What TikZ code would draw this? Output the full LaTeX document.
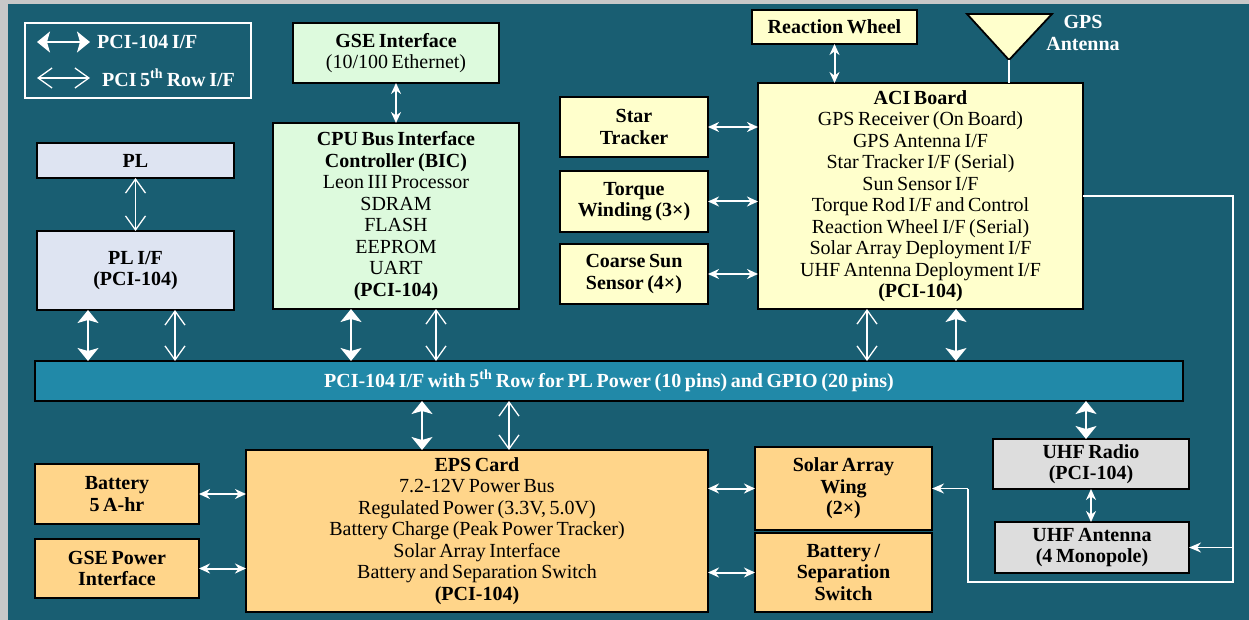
\documentclass[tikz,border=0pt]{standalone}
\usepackage{fontspec}
\setmainfont{Liberation Serif}
\usetikzlibrary{arrows.meta}
\definecolor{bgteal}{RGB}{25,94,114}
\definecolor{busblue}{RGB}{33,137,168}
\definecolor{edgegray}{RGB}{200,200,200}
\definecolor{boxgreen}{RGB}{221,250,221}
\definecolor{boxyellow}{RGB}{255,255,204}
\definecolor{boxlav}{RGB}{222,228,242}
\definecolor{boxgray}{RGB}{221,221,221}
\definecolor{boxorange}{RGB}{255,213,138}
\newcommand{\mytight}{\fontsize{20}{21.5}\selectfont\spaceskip=0.18em plus 0.05em minus 0.05em\relax}
\newcommand{\myblock}[7]{%
  \pgfmathsetmacro{\myblkw}{#5-#3}%
  \pgfmathsetmacro{\myblkh}{#6-#4}%
  \node[blkbox,#2,minimum width=\myblkw pt,minimum height=\myblkh pt,anchor=north west] (#1) at (#3,#4) {#7};}
\tikzset{
  blkbox/.style={draw=black, line width=1.8pt, inner sep=1pt, outer sep=0pt, align=center, text=black,
    font=\mytight},
  sarr/.style={draw=white, line width=1.4pt,
    arrows={Stealth[length=13pt,width=21pt,inset=3pt]-Stealth[length=13pt,width=21pt,inset=3pt]}},
  oarr/.style={draw=white, line width=1.3pt,
    arrows={Straight Barb[length=14pt,width=20pt]-Straight Barb[length=14pt,width=20pt]}},
  smarr/.style={draw=white, line width=2pt,
    arrows={Stealth[length=11pt,width=10pt]-Stealth[length=11pt,width=10pt]}},
  feed/.style={draw=white, line width=1.4pt},
  feedarr/.style={draw=white, line width=1.4pt, arrows={-Stealth[length=12pt,width=10pt]}},
  wtext/.style={text=white, font=\mytight\bfseries, inner sep=0pt, align=center}
}
\begin{document}
\begin{tikzpicture}[x=1pt,y=-1pt]
\useasboundingbox (0,0) rectangle (1249,620);
\fill[edgegray] (0,0) rectangle (1249,620);
\fill[bgteal] (8,4) rectangle (1249,620);

% legend
\draw[white, line width=1.5pt] (25,23) rectangle (251,98);
\coordinate (l1a) at (37,42); \coordinate (l1b) at (90,42);
\coordinate (l2a) at (37,78); \coordinate (l2b) at (90,78);
\draw[sarr] (l1a) -- (l1b);
\draw[oarr] (l2a) -- (l2b);
\node[wtext, anchor=west] (leg1) at (97,42) {PCI-104 I/F};
\node[wtext, anchor=west] (leg2) at (102,78) {PCI 5\textsuperscript{th} Row I/F};

% blocks
\myblock{gse}{fill=boxgreen}{293}{23}{499}{83}{\textbf{GSE Interface}\\(10/100 Ethernet)}
\myblock{cpu}{fill=boxgreen}{273}{123}{519}{309}{\textbf{CPU Bus Interface}\\\textbf{Controller (BIC)}\\Leon III Processor\\SDRAM\\FLASH\\EEPROM\\UART\\\textbf{(PCI-104)}}
\myblock{pl}{fill=boxlav}{37}{143}{234}{178}{\textbf{PL}}
\myblock{plif}{fill=boxlav}{37}{231}{234}{310}{\textbf{PL I/F}\\\textbf{(PCI-104)}}
\myblock{bus}{fill=busblue}{35}{361}{1183}{401}{}
\node[wtext] (bustext) at (bus.center) {PCI-104 I/F with 5\textsuperscript{th} Row for PL Power (10 pins) and GPIO (20 pins)};
\myblock{aci}{fill=boxyellow}{758}{83}{1083}{309}{\textbf{ACI Board}\\GPS Receiver (On Board)\\GPS Antenna I/F\\Star Tracker I/F (Serial)\\Sun Sensor I/F\\Torque Rod I/F and Control\\Reaction Wheel I/F (Serial)\\Solar Array Deployment I/F\\UHF Antenna Deployment I/F\\\textbf{(PCI-104)}}
\myblock{rw}{fill=boxyellow}{752}{10}{917}{44}{\textbf{Reaction Wheel}}
\myblock{star}{fill=boxyellow}{560}{97}{708}{157}{\textbf{Star}\\\textbf{Tracker}}
\myblock{torque}{fill=boxyellow}{560}{171}{708}{232}{\textbf{Torque}\\\textbf{Winding (3×)}}
\myblock{coarse}{fill=boxyellow}{560}{244}{708}{304}{\textbf{Coarse Sun}\\\textbf{Sensor (4×)}}
\myblock{uhfr}{fill=boxgray}{993}{439}{1189}{489}{\textbf{UHF Radio}\\\textbf{(PCI-104)}}
\myblock{uhfa}{fill=boxgray}{995}{522}{1189}{573}{\textbf{UHF Antenna}\\\textbf{(4 Monopole)}}
\myblock{eps}{fill=boxorange}{246}{450}{708}{612}{\textbf{EPS Card}\\7.2-12V Power Bus\\Regulated Power (3.3V, 5.0V)\\Battery Charge (Peak Power Tracker)\\Solar Array Interface\\Battery and Separation Switch\\\textbf{(PCI-104)}}
\myblock{batt}{fill=boxorange}{35}{464}{199}{524}{\textbf{Battery}\\\textbf{5 A-hr}}
\myblock{gsep}{fill=boxorange}{35}{539}{199}{598}{\textbf{GSE Power}\\\textbf{Interface}}
\myblock{solar}{fill=boxorange}{755}{447}{932}{530}{\textbf{Solar Array}\\\textbf{Wing}\\\textbf{(2×)}}
\myblock{bsep}{fill=boxorange}{755}{533}{932}{612}{\textbf{Battery /}\\\textbf{Separation}\\\textbf{Switch}}

% GPS antenna
\coordinate (gpsapex) at (1009,60);
\filldraw[fill=boxyellow, draw=black, line width=1.8pt, line join=miter] (967,14) -- (1052,14) -- (gpsapex) -- cycle;
\draw[feed] (gpsapex) -- (gpsapex |- aci.north);
\node[wtext] (gpstext) at (1083,33) {GPS\\Antenna};

% connectors
\draw[oarr] (pl.south) -- (plif.north);
\draw[sarr] ([xshift=51pt]plif.south west) -- ([xshift=53pt]bus.north west);
\draw[oarr] ([xshift=138pt]plif.south west) -- ([xshift=140pt]bus.north west);
\draw[smarr] (gse.south) -- (cpu.north);
\draw[sarr] ([xshift=78pt]cpu.south west) -- ([xshift=316pt]bus.north west);
\draw[oarr] ([xshift=163pt]cpu.south west) -- ([xshift=401pt]bus.north west);
\draw[oarr] ([xshift=109pt]aci.south west) -- ([xshift=832pt]bus.north west);
\draw[sarr] ([xshift=198pt]aci.south west) -- ([xshift=921pt]bus.north west);
\draw[smarr] (rw.south) -- (rw.south |- aci.north);
\draw[smarr] (star.east) -- (star.east -| aci.west);
\draw[smarr] (torque.east) -- (torque.east -| aci.west);
\draw[smarr] (coarse.east) -- (coarse.east -| aci.west);
\draw[sarr] ([xshift=-97pt]bus.south east) -- ([xshift=-97pt]bus.south east |- uhfr.north);
\draw[smarr] (uhfr.south) -- (uhfr.south |- uhfa.north);
\draw[sarr] ([xshift=176pt]eps.north west |- bus.south) -- ([xshift=176pt]eps.north west);
\draw[oarr] ([xshift=263pt]eps.north west |- bus.south) -- ([xshift=263pt]eps.north west);
\draw[smarr] (batt.east) -- (batt.east -| eps.west);
\draw[smarr] (gsep.east) -- (gsep.east -| eps.west);
\draw[smarr] (solar.west -| eps.east) -- (solar.west);
\draw[smarr] (bsep.west -| eps.east) -- (bsep.west);

% ACI feed lines
\coordinate (rtop) at (1233,196);
\coordinate (rbot) at (1233,582);
\coordinate (lbot) at (968,582);
\draw[feed] (aci.east) -- (rtop) -- (rbot) -- (lbot) -- (lbot |- solar.east);
\draw[feedarr] (lbot |- solar.east) -- (solar.east);
\draw[feedarr] (rtop |- uhfa.east) -- (uhfa.east);
\end{tikzpicture}
\end{document}
